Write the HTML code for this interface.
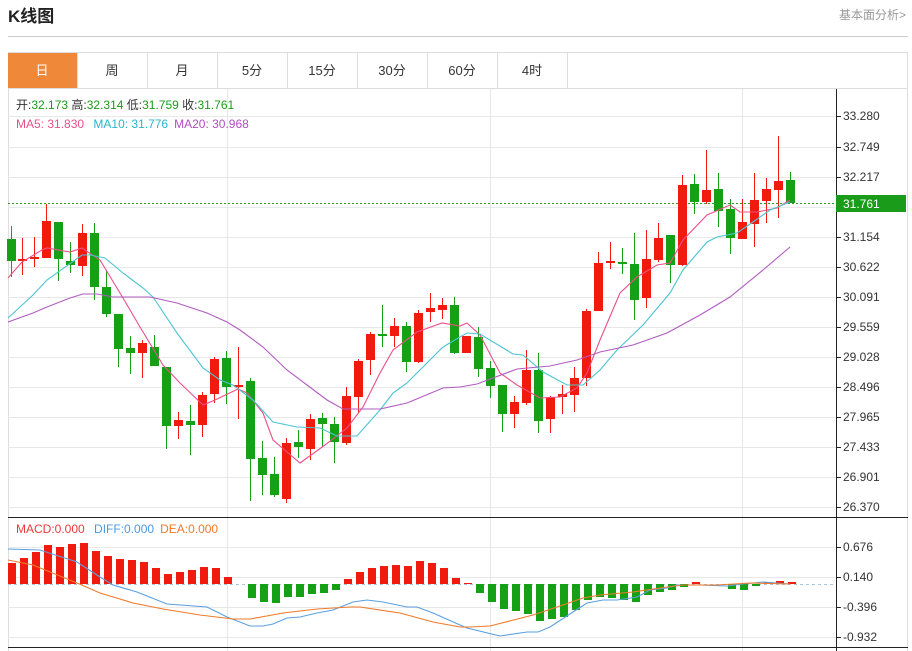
<!DOCTYPE html>
<html><head><meta charset="utf-8"><style>
body{margin:0;background:#fff;font-family:"Liberation Sans","Noto Sans CJK SC",sans-serif;}
#w{position:relative;width:912px;height:651px;overflow:hidden}
</style></head><body><div id="w">
<svg id="s" width="912" height="651" xmlns="http://www.w3.org/2000/svg" style="position:absolute;left:0;top:0;font-family:'Liberation Sans','Noto Sans CJK SC',sans-serif">
<text x="8" y="22" font-size="17" font-weight="bold" fill="#222">K线图</text>
<text x="906" y="19" font-size="12" fill="#999" text-anchor="end">基本面分析&gt;</text>
<line x1="8" y1="36.5" x2="908" y2="36.5" stroke="#ccc"/>
<rect x="8.5" y="52.5" width="899" height="600" fill="none" stroke="#ddd"/>
<rect x="8" y="53" width="69" height="35" fill="#f0883a"/>
<g stroke="#ddd"><line x1="77.5" y1="53" x2="77.5" y2="88"/><line x1="147.5" y1="53" x2="147.5" y2="88"/><line x1="217.5" y1="53" x2="217.5" y2="88"/><line x1="287.5" y1="53" x2="287.5" y2="88"/><line x1="357.5" y1="53" x2="357.5" y2="88"/><line x1="427.5" y1="53" x2="427.5" y2="88"/><line x1="497.5" y1="53" x2="497.5" y2="88"/><line x1="567.5" y1="53" x2="567.5" y2="88"/><line x1="8" y1="88.5" x2="908" y2="88.5"/></g>
<g font-size="13" text-anchor="middle" fill="#333"><text x="42" y="75" fill="#fff">日</text><text x="112" y="75">周</text><text x="182" y="75">月</text><text x="252" y="75">5分</text><text x="322" y="75">15分</text><text x="392" y="75">30分</text><text x="462" y="75">60分</text><text x="532" y="75">4时</text></g>
<g id="grid" stroke="#e8e8e8"></g>
<g stroke="#e4e8ee"><line x1="227.5" y1="89" x2="227.5" y2="651"/><line x1="490.5" y1="89" x2="490.5" y2="651"/><line x1="742.5" y1="89" x2="742.5" y2="651"/></g>
<line x1="8" y1="203.5" x2="836" y2="203.5" stroke="#2a9c2a" stroke-dasharray="2,2"/>
<line x1="8" y1="584.5" x2="836" y2="584.5" stroke="#a8c8e0" stroke-dasharray="3,3"/>
<g id="c"></g>
<polyline fill="none" stroke="#e8508a" stroke-width="1.1" points="8,278 22,262 42,250 47,248 70,252 82,248 100,260 123,298 140,327 163,365 180,383 203,405 215,400 238,389 247,393 263,413 273,440 300,463 325,445 347,428 363,407 380,373 393,350 417,332 442,323 460,326 467,323 480,335 500,373 517,385 540,398 560,397 577,388 587,373 600,340 620,293 637,277 657,265 670,263 683,240 707,215 730,205 740,212 757,212 777,208 790,200"/>
<polyline fill="none" stroke="#4cc4d2" stroke-width="1.1" points="8,318 33,295 47,280 82,255 90,255 105,258 123,273 143,288 153,297 177,333 203,368 220,380 233,385 253,400 273,422 297,427 320,428 337,436 357,436 380,410 393,393 407,383 443,347 460,337 467,333 480,334 513,354 523,355 543,372 567,385 583,385 600,370 617,350 643,325 670,293 683,270 707,242 717,237 737,233 753,222 770,210 790,202"/>
<polyline fill="none" stroke="#b05cc0" stroke-width="1.1" points="8,322 33,313 47,307 70,298 83,294 97,294 113,297 150,297 177,303 207,313 227,322 240,330 263,347 287,370 307,385 327,400 343,409 380,409 407,403 443,388 460,387 477,384 517,369 550,366 577,360 600,352 633,345 667,333 700,315 730,297 763,270 790,247"/>
<g id="h"></g>
<polyline fill="none" stroke="#5aa0e0" stroke-width="1.1" points="8,549 40,550 77,562 100,577 113,585 137,592 167,604 207,607 227,617 250,626 263,626 273,624 287,618 300,617 317,613 333,610 353,602 367,600 383,602 407,607 417,607 433,613 460,625 467,628 500,636 527,632 538,632 550,627 573,612 587,603 603,600 617,600 637,597 650,590 667,588 677,585 700,585 727,586 743,584 763,582 790,584"/>
<polyline fill="none" stroke="#f07a2a" stroke-width="1.1" points="8,560 33,565 77,583 100,593 133,603 163,609 200,615 233,619 250,619 283,613 317,609 350,607 360,607 400,613 433,622 460,627 470,627 490,626 533,615 557,607 583,598 600,595 633,592 667,587 683,585 717,585 750,583 790,584"/>
<line x1="8" y1="517.5" x2="908" y2="517.5" stroke="#222"/>
<line x1="8" y1="647.5" x2="908" y2="647.5" stroke="#222"/>
<line x1="836.5" y1="89" x2="836.5" y2="651" stroke="#222"/>
<g id="ax" font-size="12" fill="#333"></g>
<rect x="836" y="195" width="70" height="17" fill="#1a9c1a"/>
<text x="843" y="208" font-size="12" fill="#fff">31.761</text>
<g font-size="12"><text x="16" y="109" fill="#333">开:<tspan fill="#1a9c1a">32.173</tspan>  高:<tspan fill="#1a9c1a">32.314</tspan>  低:<tspan fill="#1a9c1a">31.759</tspan>  收:<tspan fill="#1a9c1a">31.761</tspan></text>
<text x="16" y="128" fill="#e8508a">MA5: 31.830 <tspan fill="#2ab5c8" dx="6">MA10: 31.776</tspan><tspan fill="#b04fc0" dx="6">MA20: 30.968</tspan></text>
<text x="16" y="533" fill="#e83a3a">MACD:0.000 <tspan fill="#4a9ae0" dx="6">DIFF:0.000</tspan><tspan fill="#f07a2a" dx="6">DEA:0.000</tspan></text></g>
</svg>
<script>
var N="http://www.w3.org/2000/svg";function el(p,t,a){var e=document.createElementNS(N,t);for(var k in a)e.setAttribute(k,a[k]);document.getElementById(p).appendChild(e);return e;}
var py=[116,147,177,207,237,267,297,327,357,387,417,447,477,507],pl=["33.280","32.749","32.217","","31.154","30.622","30.091","29.559","29.028","28.496","27.965","27.433","26.901","26.370"];
py.forEach(function(y,i){el("grid","line",{x1:8,y1:y+.5,x2:836,y2:y+.5});el("ax","line",{x1:836,y1:y+.5,x2:841,y2:y+.5,stroke:"#222"});if(pl[i]){var t=el("ax","text",{x:843,y:y+4});t.textContent=pl[i];}});
[[547,"0.676"],[577,"0.140"],[607,"-0.396"],[637,"-0.932"]].forEach(function(a){el("grid","line",{x1:8,y1:a[0]+.5,x2:836,y2:a[0]+.5});el("ax","line",{x1:836,y1:a[0]+.5,x2:841,y2:a[0]+.5,stroke:"#222"});var t=el("ax","text",{x:843,y:a[0]+4});t.textContent=a[1];});
var C="11,239,261,226,277,g 22,259,261,238,275,r 34,257,259,237,267,r 46,221,258,204,258,r 58,222,259,222,281,g 70,261,265,242,273,g 82,233,266,224,276,r 94,233,287,223,300,g 106,287,314,270,317,g 118,314,349,314,367,g 130,348,353,336,374,g 142,343,353,340,378,r 154,347,366,335,366,g 166,367,426,367,449,g 178,420,426,412,439,r 190,421,425,405,455,g 202,395,425,392,437,r 214,359,394,357,403,r 226,358,387,351,404,g 238,385,387,347,419,r 250,381,459,378,501,g 262,458,475,441,495,g 274,474,495,457,497,g 286,443,499,438,503,r 298,442,447,430,458,g 310,419,449,414,460,r 322,418,424,413,447,g 334,424,442,417,463,g 346,396,443,387,445,r 358,361,397,359,413,r 370,334,360,332,375,r 382,334,336,305,347,g 394,326,336,318,347,r 406,326,362,322,372,g 418,313,362,310,363,r 430,308,312,293,322,r 442,305,310,298,319,r 454,305,353,297,354,g 466,336,353,336,353,r 478,337,369,327,377,g 490,368,386,361,398,g 502,385,414,385,432,g 514,402,414,396,428,r 526,370,403,350,405,r 538,370,421,353,433,g 550,397,419,396,433,r 562,394,397,385,414,r 574,378,395,367,412,r 586,311,378,309,386,r 598,263,311,252,311,r 610,261,263,242,269,r 622,262,264,248,274,g 634,264,300,233,320,g 646,259,298,230,308,r 658,238,260,223,262,r 670,235,265,235,283,g 682,185,265,175,266,r 694,184,202,174,214,g 706,190,202,150,204,r 718,189,211,173,227,g 730,209,238,199,254,g 742,222,239,199,239,r 754,200,224,173,247,r 766,189,201,178,223,r 778,181,190,136,218,r 790,180,203,172,203,g";
C.split(" ").forEach(function(s){var a=s.split(","),x=+a[0],col=a[5]=="r"?"#f01a0e":"#15a015";el("c","line",{x1:x+.5,y1:a[3],x2:x+.5,y2:a[4],stroke:col});var h=Math.max(2,a[2]-a[1]);el("c","rect",{x:x-4,y:a[1],width:9,height:h,fill:col});});
var H=[563,558,552,545,547,544,543,551,556,559,560,562,568,574,572,570,567,568,577,584,598,602,603,597,597,594,593,590,579,572,568,566,565,566,561,563,568,578,583,593,602,609,611,614,621,619,617,610,600,597,598,600,602,595,592,590,587,582,584,584,589,590,586,582,581,582];
H.forEach(function(y,i){var x=12+i*12,z=584;if(Math.abs(y-z)<1)return;var col=y<z?"#f01a0e":"#15a015";el("h","rect",{x:x-4,y:Math.min(y,z),width:8,height:Math.abs(y-z),fill:col});});
</script>
</div></body></html>
